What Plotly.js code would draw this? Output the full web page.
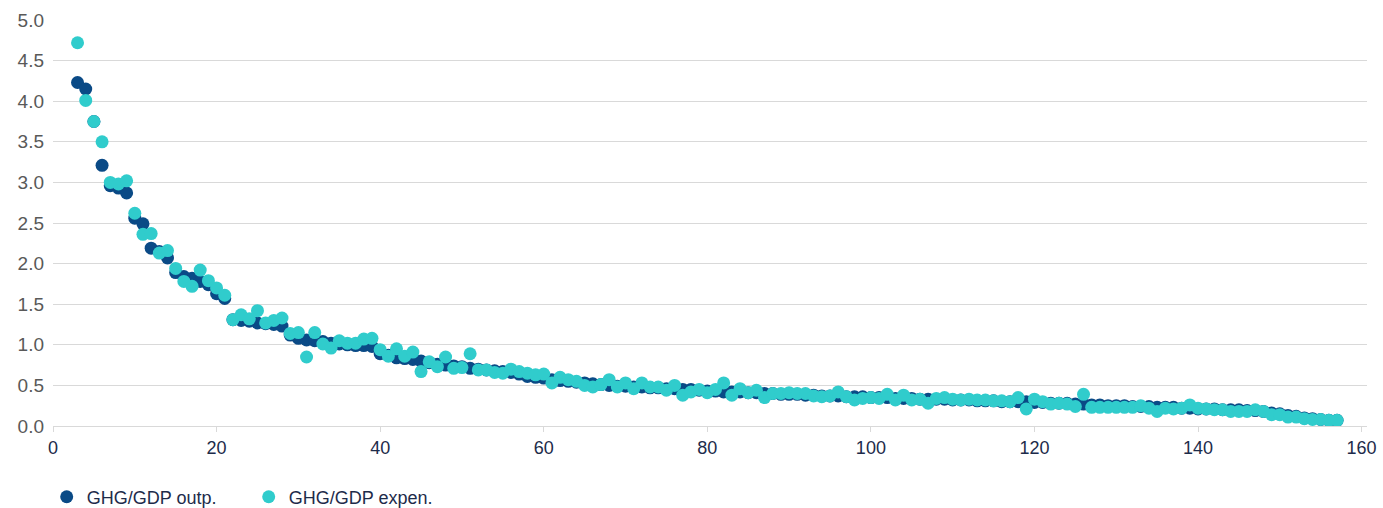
<!DOCTYPE html>
<html>
<head>
<meta charset="utf-8">
<script src="https://cdn.plot.ly/plotly-3.0.1.min.js"></script>
<style>html,body{margin:0;padding:0;background:#fff;}#chart{width:1383px;height:508px;}</style>
</head>
<body>
<div id="chart"></div>
<script>
// Rank of each country (x axis)
const rank = [3,4,5,6,7,8,9,10,11,12,13,14,15,16,17,18,19,20,21,22,23,24,25,26,27,28,29,30,31,32,33,34,35,36,37,38,39,40,41,42,43,44,45,46,47,48,49,50,51,52,53,54,55,56,57,58,59,60,61,62,63,64,65,66,67,68,69,70,71,72,73,74,75,76,77,78,79,80,81,82,83,84,85,86,87,88,89,90,91,92,93,94,95,96,97,98,99,100,101,102,103,104,105,106,107,108,109,110,111,112,113,114,115,116,117,118,119,120,121,122,123,124,125,126,127,128,129,130,131,132,133,134,135,136,137,138,139,140,141,142,143,144,145,146,147,148,149,150,151,152,153,154,155,156,157];

// GHG/GDP, output based
const ghgOutp = [4.23,4.15,3.75,3.21,2.96,2.93,2.87,2.56,2.49,2.19,2.15,2.07,1.89,1.84,1.82,1.78,1.74,1.63,1.57,1.31,1.30,1.29,1.27,1.26,1.25,1.23,1.12,1.08,1.06,1.05,1.04,1.02,1.01,1.00,0.99,0.99,0.98,0.89,0.87,0.84,0.83,0.82,0.80,0.78,0.76,0.75,0.74,0.73,0.71,0.70,0.69,0.68,0.67,0.66,0.64,0.61,0.60,0.59,0.57,0.56,0.55,0.54,0.53,0.52,0.51,0.50,0.49,0.49,0.48,0.48,0.47,0.47,0.46,0.46,0.45,0.45,0.44,0.43,0.43,0.42,0.42,0.42,0.41,0.41,0.40,0.40,0.39,0.39,0.39,0.38,0.38,0.37,0.37,0.37,0.36,0.36,0.36,0.35,0.35,0.35,0.34,0.34,0.34,0.33,0.33,0.33,0.33,0.32,0.32,0.32,0.31,0.31,0.31,0.30,0.30,0.30,0.30,0.29,0.29,0.28,0.28,0.28,0.27,0.27,0.26,0.26,0.25,0.25,0.25,0.24,0.24,0.24,0.23,0.23,0.23,0.22,0.22,0.21,0.21,0.21,0.20,0.20,0.20,0.19,0.19,0.18,0.16,0.15,0.13,0.12,0.10,0.09,0.08,0.07,0.07];

// GHG/GDP, expenditure based
const ghgExpen = [4.72,4.01,3.75,3.50,3.00,2.98,3.02,2.62,2.36,2.37,2.13,2.16,1.94,1.78,1.72,1.92,1.79,1.70,1.61,1.31,1.37,1.32,1.42,1.27,1.30,1.33,1.14,1.15,0.85,1.15,1.01,0.96,1.05,1.02,1.02,1.07,1.08,0.94,0.86,0.95,0.86,0.91,0.67,0.79,0.73,0.85,0.71,0.72,0.89,0.69,0.69,0.66,0.65,0.70,0.67,0.65,0.63,0.64,0.53,0.60,0.57,0.55,0.50,0.48,0.51,0.57,0.48,0.53,0.46,0.53,0.48,0.48,0.44,0.50,0.38,0.42,0.45,0.41,0.45,0.53,0.38,0.46,0.41,0.44,0.35,0.40,0.40,0.41,0.40,0.40,0.37,0.36,0.37,0.42,0.36,0.32,0.34,0.35,0.34,0.39,0.32,0.38,0.32,0.33,0.28,0.34,0.35,0.33,0.32,0.33,0.32,0.32,0.31,0.31,0.30,0.35,0.21,0.33,0.30,0.27,0.28,0.27,0.24,0.39,0.23,0.23,0.23,0.23,0.23,0.23,0.25,0.22,0.18,0.22,0.21,0.22,0.26,0.22,0.21,0.20,0.20,0.18,0.18,0.18,0.20,0.18,0.14,0.14,0.11,0.11,0.09,0.08,0.08,0.07,0.07];

const seriesNames = ["GHG/GDP outp.", "GHG/GDP expen."];
const xTicks = [0,20,40,60,80,100,120,140,160];
const yTicks = [0,0.5,1,1.5,2,2.5,3,3.5,4,4.5,5];

const font = "'Liberation Sans', Arial, sans-serif";

const traces = [
  {x: rank, y: ghgOutp, name: seriesNames[0], type: "scatter", mode: "markers",
   marker: {color: "#0a4a86", size: 13}},
  {x: rank, y: ghgExpen, name: seriesNames[1], type: "scatter", mode: "markers",
   marker: {color: "#30cccc", size: 13}}
];

const layout = {
  width: 1383, height: 508,
  margin: {l: 53, r: 16, t: 20, b: 82, autoexpand: false},
  paper_bgcolor: "#ffffff", plot_bgcolor: "#ffffff",
  font: {family: font, size: 18, color: "#1d2b4a"},
  showlegend: true,
  legend: {orientation: "h", x: -0.0048, xanchor: "left", y: -0.175, yanchor: "middle",
           font: {family: font, size: 18, color: "#1d2b4a"}, itemwidth: 30,
           entrywidth: 157, entrywidthmode: "pixels",
           traceorder: "normal"},
  xaxis: {range: [0, 160.66], tickvals: xTicks, ticks: "outside", ticklen: 5, tickcolor: "#d9d9d9",
          showline: true, linecolor: "#d9d9d9", linewidth: 1, showgrid: false, zeroline: false,
          automargin: false,
          tickfont: {family: font, size: 18, color: "#1d2b4a"}},
  yaxis: {range: [0, 5], tickvals: yTicks, tickformat: ".1f", showgrid: true, gridcolor: "#d9d9d9",
          gridwidth: 1, zeroline: false, showline: false, ticks: "", ticklabelstandoff: 8,
          automargin: false,
          tickfont: {family: font, size: 19, color: "#595959"}},
  hovermode: false
};

Plotly.newPlot("chart", traces, layout, {displayModeBar: false, staticPlot: true});
</script>
</body>
</html>
